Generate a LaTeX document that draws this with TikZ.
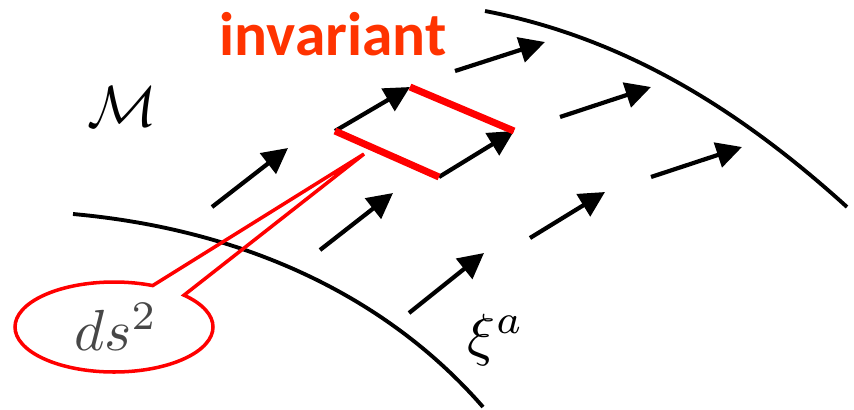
\documentclass[tikz,border=0pt]{standalone}
\usepackage{fontspec}
\newfontfamily\labelfont{Carlito}
\usetikzlibrary{arrows.meta,calc}
\definecolor{invred}{RGB}{255,51,0}

\begin{document}
\begin{tikzpicture}[
    x=0.02cm, y=-0.02cm,
    curve/.style={draw=black, line width=2.2pt},
    vec/.style={
        -{Triangle[length=14.5pt, width=14.5pt]}, line width=2.4pt, draw=black
    },
    edge/.style={draw=red, line width=4pt},
    balloon/.style={draw=red, line width=2pt, line join=miter},
    mathLabel/.style={scale=3.3, inner sep=0pt}
]
\useasboundingbox (0,0) rectangle (854,409);

% Curves (boundaries of the manifold)
\draw[curve] (73,214) .. controls (250,230) and (390,300) .. (483,407);
\draw[curve] (485,11) .. controls (625,38) and (740,110) .. (847,207);

% Flow vectors
\coordinate (a1s) at (212,207); \coordinate (a1e) at (288,148);
\coordinate (a2s) at (320,250); \coordinate (a2e) at (393,193);
\coordinate (a3s) at (409,313); \coordinate (a3e) at (484,253);
\coordinate (a4s) at (455,71);  \coordinate (a4e) at (545,42);
\coordinate (a5s) at (560,117); \coordinate (a5e) at (651,87);
\coordinate (a6s) at (530,238); \coordinate (a6e) at (605,192);
\coordinate (a7s) at (651,177); \coordinate (a7e) at (742,147);
\foreach \i in {1,...,7}
    \draw[vec] (a\i s) -- (a\i e);

% Parallelogram
\coordinate (p1) at (335,131);
\coordinate (p2) at (410,87);
\coordinate (p3) at (514,131);
\coordinate (p4) at (439,177);
\draw[vec] (p1) -- (p2);
\draw[vec] (p4) -- (p3);
\draw[edge] (p2) -- (p3);
\draw[edge] (p1) -- (p4);

% Callout balloon
\coordinate (ball) at (114,327);
\coordinate (tip) at (364,154);
\coordinate (e1) at ($(ball)+(-67:99 and 45)$);
\coordinate (e2) at ($(ball)+(-45:99 and 45)$);
\draw[balloon] (e1) -- (tip) -- (e2)
    arc[start angle=-45, end angle=293, x radius=99, y radius=45] -- cycle;
\node[mathLabel, text=black!72] (ds) at (116,327) {$ds^2$};

% Labels
\node[font=\labelfont\bfseries\fontsize{35}{42}\selectfont, text=invred, anchor=base, inner sep=0pt] (inv) at (333,55) {invariant};
\node[mathLabel] (man) at (122,107) {$\mathcal{M}$};
\node[mathLabel] (xi) at (496,340) {$\xi^a$};

\end{tikzpicture}
\end{document}
